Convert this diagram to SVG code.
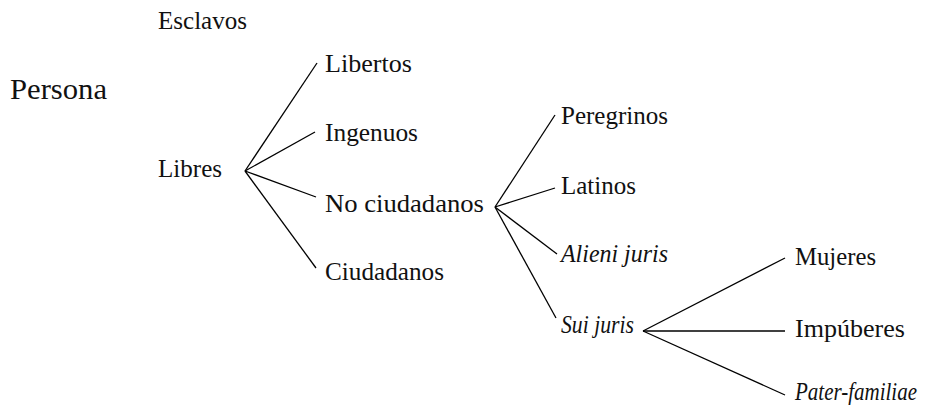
<svg xmlns="http://www.w3.org/2000/svg" width="927" height="407" viewBox="0 0 927 407">
<style>
text{font-size:25px;fill:#111}
.big{font-size:29px}
.it{font-style:italic;font-size:25px}
#connectors line{stroke:#000;stroke-width:1.3;fill:none}
</style>
<rect width="927" height="407" fill="#fff"/>
<g id="connectors">
<line x1="245" y1="171" x2="317" y2="63"/>
<line x1="245" y1="171" x2="315" y2="132"/>
<line x1="245" y1="171" x2="316" y2="197"/>
<line x1="245" y1="171" x2="316" y2="268"/>
<line x1="495" y1="207" x2="555" y2="115"/>
<line x1="495" y1="207" x2="555" y2="188"/>
<line x1="495" y1="207" x2="557" y2="254"/>
<line x1="495" y1="207" x2="556" y2="318"/>
<line x1="643" y1="331" x2="785" y2="258"/>
<line x1="643" y1="331" x2="785" y2="331"/>
<line x1="643" y1="331" x2="785" y2="395"/>
</g>
<g id="esclavos"><text font-family="Liberation Serif" x="158" y="29" textLength="89" lengthAdjust="spacingAndGlyphs">Esclavos</text></g>
<g id="persona"><text font-family="Liberation Serif" class="big" x="10" y="99" textLength="97" lengthAdjust="spacingAndGlyphs">Persona</text></g>
<g id="libres"><text font-family="Liberation Serif" x="158" y="177" textLength="64" lengthAdjust="spacingAndGlyphs">Libres</text></g>
<g id="libertos"><text font-family="Liberation Serif" x="325" y="72" textLength="87" lengthAdjust="spacingAndGlyphs">Libertos</text></g>
<g id="ingenuos"><text font-family="Liberation Serif" x="325" y="141" textLength="93" lengthAdjust="spacingAndGlyphs">Ingenuos</text></g>
<g id="no-ciudadanos"><text font-family="Liberation Serif" x="325" y="212" textLength="159" lengthAdjust="spacingAndGlyphs">No ciudadanos</text></g>
<g id="ciudadanos"><text font-family="Liberation Serif" x="325" y="280" textLength="119" lengthAdjust="spacingAndGlyphs">Ciudadanos</text></g>
<g id="peregrinos"><text font-family="Liberation Serif" x="561" y="124" textLength="107" lengthAdjust="spacingAndGlyphs">Peregrinos</text></g>
<g id="latinos"><text font-family="Liberation Serif" x="561" y="194" textLength="75" lengthAdjust="spacingAndGlyphs">Latinos</text></g>
<g id="alieni-juris"><text font-family="Liberation Serif" class="it" x="561" y="262" textLength="107" lengthAdjust="spacingAndGlyphs">Alieni juris</text></g>
<g id="sui-juris"><text font-family="Liberation Serif" class="it" x="561" y="333" textLength="73" lengthAdjust="spacingAndGlyphs">Sui juris</text></g>
<g id="mujeres"><text font-family="Liberation Serif" x="795" y="265" textLength="81" lengthAdjust="spacingAndGlyphs">Mujeres</text></g>
<g id="impuberes"><text font-family="Liberation Serif" x="795" y="337" textLength="110" lengthAdjust="spacingAndGlyphs">Impúberes</text></g>
<g id="pater-familiae"><text font-family="Liberation Serif" class="it" x="795" y="400" textLength="122" lengthAdjust="spacingAndGlyphs">Pater-familiae</text></g>
</svg>
